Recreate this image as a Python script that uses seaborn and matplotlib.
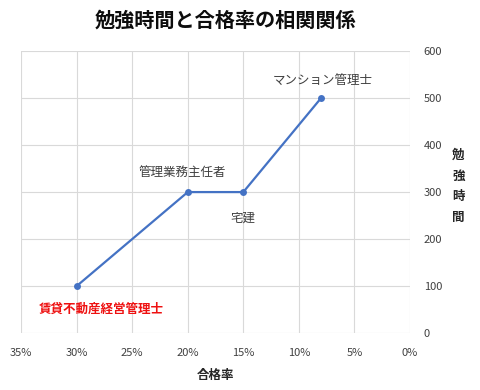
import matplotlib
matplotlib.use("Agg")
import matplotlib.pyplot as plt
import pandas as pd
import seaborn as sns
from matplotlib.ticker import FuncFormatter

sns.set_style("white")
plt.rcParams["font.family"] = ["Noto Sans CJK JP", "DejaVu Sans"]

# data
exams = ["賃貸不動産経営管理士", "管理業務主任者", "宅建", "マンション管理士"]
pass_rate = [30, 20, 15, 8]
study_hours = [100, 300, 300, 500]
label_colors = ["#ee1111", "#404040", "#404040", "#404040"]
# label offsets in points (dx, dy)
label_offsets = [(18, -17), (-4, 14), (0, -19), (1, 13)]

df = pd.DataFrame({"exam": exams, "rate": pass_rate, "hours": study_hours})

fig = plt.figure(figsize=(4.8, 3.9), dpi=100)
ax = fig.add_axes([0.044, 0.146, 0.81, 0.723])

sns.lineplot(data=df, x="rate", y="hours", ax=ax, color="#4472c4", linewidth=1.6,
             marker="o", markersize=5, markeredgewidth=0, sort=False)

ax.set_xlim(35, 0)
ax.set_ylim(0, 600)
ax.set_xticks(range(35, -1, -5))
ax.set_yticks(range(0, 601, 100))
ax.xaxis.set_major_formatter(FuncFormatter(lambda v, p: f"{int(v)}%"))
ax.yaxis.tick_right()
ax.grid(True, color="#d9d9d9", linewidth=0.8)
for s in ax.spines.values():
    s.set_visible(False)
ax.tick_params(axis="both", length=0, labelsize=8, colors="#404040")
ax.tick_params(axis="x", pad=11)
ax.tick_params(axis="y", pad=10)

for name, x, y, c, (dx, dy) in zip(exams, pass_rate, study_hours, label_colors, label_offsets):
    ax.annotate(name, (x, y), xytext=(dx, dy), textcoords="offset points",
                ha="center", va="center", fontsize=9, color=c,
                fontweight="bold" if c == "#ee1111" else "normal")

ax.set_xlabel("合格率", fontsize=9, fontweight="bold", color="#262626", labelpad=8)
ax.set_ylabel("")
fig.text(0.955, 0.522, "勉\n強\n時\n間", ha="center", va="center", fontsize=9,
         fontweight="bold", color="#262626", linespacing=1.75)

fig.suptitle("勉強時間と合格率の相関関係", x=0.469, y=0.975, fontsize=14.5,
             fontweight="bold", color="#0d0d0d")

fig.savefig("out.png", dpi=100)
